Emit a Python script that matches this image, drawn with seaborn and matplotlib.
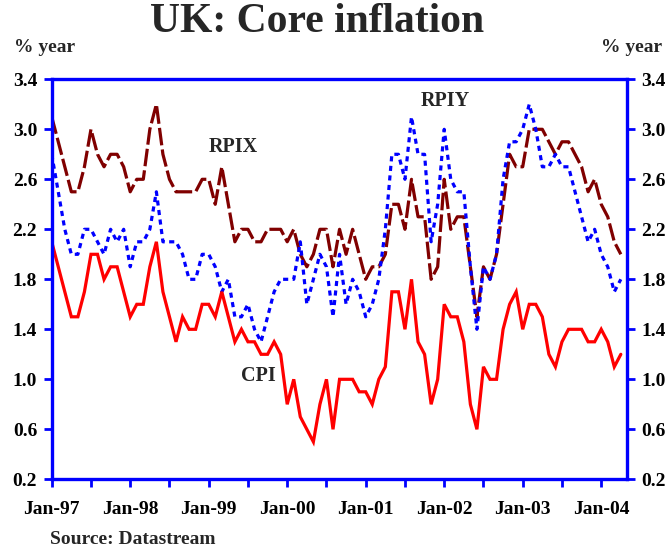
import numpy as np
import pandas as pd
import matplotlib
matplotlib.use("Agg")
import matplotlib.pyplot as plt
import seaborn as sns

# ---- data (monthly, Jan-97 .. Apr-04), % year ----
months = pd.date_range("1997-01-01", periods=88, freq="MS")

rpix = [3.1, 2.9, 2.7, 2.5, 2.5, 2.7, 3.0, 2.8, 2.7, 2.8, 2.8, 2.7,
        2.5, 2.6, 2.6, 3.0, 3.2, 2.8, 2.6, 2.5, 2.5, 2.5, 2.5, 2.6,
        2.6, 2.4, 2.7, 2.4, 2.1, 2.2, 2.2, 2.1, 2.1, 2.2, 2.2, 2.2,
        2.1, 2.2, 2.0, 1.9, 2.0, 2.2, 2.2, 1.9, 2.2, 2.0, 2.2, 2.0,
        1.8, 1.9, 1.9, 2.0, 2.4, 2.4, 2.2, 2.6, 2.3, 2.3, 1.8, 1.9,
        2.6, 2.2, 2.3, 2.3, 1.9, 1.5, 1.9, 1.8, 2.0, 2.4, 2.8, 2.7,
        2.7, 3.0, 3.0, 3.0, 2.9, 2.8, 2.9, 2.9, 2.8, 2.7, 2.5, 2.6,
        2.4, 2.3, 2.1, 2.0]

rpiy = [2.8, 2.5, 2.2, 2.0, 2.0, 2.2, 2.2, 2.1, 2.0, 2.2, 2.1, 2.2,
        1.9, 2.1, 2.1, 2.2, 2.5, 2.1, 2.1, 2.1, 2.0, 1.8, 1.8, 2.0,
        2.0, 1.9, 1.7, 1.8, 1.5, 1.5, 1.6, 1.4, 1.3, 1.5, 1.7, 1.8,
        1.8, 1.8, 2.1, 1.6, 1.8, 2.0, 1.9, 1.5, 2.0, 1.6, 1.8, 1.7,
        1.5, 1.6, 1.8, 2.2, 2.8, 2.8, 2.6, 3.1, 2.8, 2.8, 2.1, 2.4,
        3.0, 2.6, 2.5, 2.5, 1.9, 1.4, 1.9, 1.8, 2.0, 2.6, 2.9, 2.9,
        3.0, 3.2, 3.0, 2.7, 2.7, 2.8, 2.7, 2.7, 2.5, 2.3, 2.1, 2.2,
        2.0, 1.9, 1.7, 1.8]

cpi = [2.1, 1.9, 1.7, 1.5, 1.5, 1.7, 2.0, 2.0, 1.8, 1.9, 1.9, 1.7,
       1.5, 1.6, 1.6, 1.9, 2.1, 1.7, 1.5, 1.3, 1.5, 1.4, 1.4, 1.6,
       1.6, 1.5, 1.7, 1.5, 1.3, 1.4, 1.3, 1.3, 1.2, 1.2, 1.3, 1.2,
       0.8, 1.0, 0.7, 0.6, 0.5, 0.8, 1.0, 0.6, 1.0, 1.0, 1.0, 0.9,
       0.9, 0.8, 1.0, 1.1, 1.7, 1.7, 1.4, 1.8, 1.3, 1.2, 0.8, 1.0,
       1.6, 1.5, 1.5, 1.3, 0.8, 0.6, 1.1, 1.0, 1.0, 1.4, 1.6, 1.7,
       1.4, 1.6, 1.6, 1.5, 1.2, 1.1, 1.3, 1.4, 1.4, 1.4, 1.3, 1.3,
       1.4, 1.3, 1.1, 1.2]

series_names = ["RPIX", "RPIY", "CPI"]
y_ticks = [0.2, 0.6, 1.0, 1.4, 1.8, 2.2, 2.6, 3.0, 3.4]
x_labels = ["Jan-97", "Jan-98", "Jan-99", "Jan-00", "Jan-01", "Jan-02", "Jan-03", "Jan-04"]

# ---- styling ----
sns.set_theme(style="white")
plt.rcParams["font.family"] = ["Liberation Serif", "DejaVu Serif"]
plt.rcParams["font.weight"] = "bold"

BLUE = "#0000FF"
colors = {"RPIX": "#800000", "RPIY": "#0000FF", "CPI": "#FF0000"}
dashes = {"RPIX": (5.5, 1.3), "RPIY": (1.6, 1.4), "CPI": ""}

idx = np.arange(len(months))
df = pd.DataFrame({
    "t": np.concatenate([idx, idx, idx]),
    "value": np.concatenate([rpix, rpiy, cpi]),
    "series": np.repeat(series_names, len(idx)),
})

fig = plt.figure(figsize=(6.69, 5.51), dpi=100)
ax = fig.add_axes([0.0773, 0.1301, 0.9368 - 0.0773, 0.8561 - 0.1301])

sns.lineplot(data=df, x="t", y="value", hue="series", style="series",
             palette=colors, dashes=dashes, linewidth=2.3, legend=False,
             ax=ax, sort=False)
for ln in ax.get_lines():
    ln.set_dash_capstyle("butt")
    ln.set_solid_joinstyle("miter")

ax.set_xlim(0, 87.9)
ax.set_ylim(0.2, 3.4)
ax.set_xlabel("")
ax.set_ylabel("")

xt = np.arange(0, 85, 6)
ax.set_xticks(xt)
ax.set_xticklabels([x_labels[i // 12] if i % 12 == 0 else "" for i in xt])
ax.set_yticks(y_ticks)
ax.set_yticklabels([f"{v:.1f}" for v in y_ticks])

for s in ax.spines.values():
    s.set_visible(True)
    s.set_color(BLUE)
    s.set_linewidth(2.4)

ax.tick_params(axis="both", which="both", direction="out", color=BLUE,
               width=2.0, length=5.5, labelsize=14, labelcolor="black")
ax.tick_params(axis="y", left=True, right=True, labelleft=True, labelright=True, pad=5)
ax.tick_params(axis="x", bottom=True, top=False, pad=10)
for lab in ax.get_xticklabels() + ax.get_yticklabels():
    lab.set_fontweight("bold")
for lab in ax.yaxis.get_ticklabels(which="both"):
    lab.set_fontweight("bold")
for t in ax.yaxis.get_major_ticks():
    t.label2.set_fontweight("bold")
    t.label2.set_fontsize(14)

# series labels
ax.text(27.7, 2.86, "RPIX", ha="center", va="center", fontsize=14.5, fontweight="bold")
ax.text(60.2, 3.23, "RPIY", ha="center", va="center", fontsize=14.5, fontweight="bold")
ax.text(31.6, 1.03, "CPI", ha="center", va="center", fontsize=14.5, fontweight="bold")

# titles and notes
fig.text(317 / 669, 1 - 22 / 551, "UK: Core inflation", ha="center", va="center",
         fontsize=30, fontweight="bold")
fig.text(45 / 669, 1 - 47 / 551, "% year", ha="center", va="center", fontsize=14, fontweight="bold")
fig.text(632 / 669, 1 - 47 / 551, "% year", ha="center", va="center", fontsize=14, fontweight="bold")
fig.text(50 / 669, 1 - 540 / 551, "Source: Datastream", ha="left", va="center",
         fontsize=14, fontweight="bold")

fig.savefig("out.png", dpi=100)
